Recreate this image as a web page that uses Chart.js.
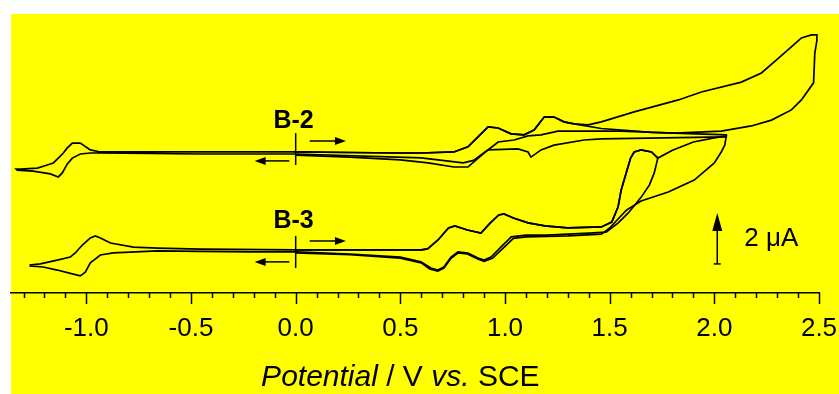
<!DOCTYPE html>
<html>
<head>
<meta charset="utf-8">
<script src="https://cdn.jsdelivr.net/npm/chart.js@4/dist/chart.umd.min.js"></script>
<style>
  html, body { margin: 0; padding: 0; background: #fff; }
</style>
</head>
<body>
<canvas id="cv" width="839" height="394"></canvas>
<script>
// potencial (V vs. SCE), corriente (uA, desplazada para apilar las curvas)

// ---- B-3 ----
const b3Ida = [[0,1.69],[0.26,1.69],[0.5,1.69],[0.6,1.69],[0.63,1.73],[0.68,2.08],[0.73,2.55],[0.76,2.63],
  [0.82,2.47],[0.885,2.35],[0.93,2.75],[0.97,3.06],[0.995,3.10],[1.04,2.94],[1.11,2.75],[1.19,2.63],
  [1.3,2.55],[1.46,2.59],[1.51,2.78],[1.54,3.37],[1.555,4.04],[1.6,5.29],[1.617,5.53],[1.65,5.61],[1.70,5.53],[1.73,5.29]];
const b3Vuelta2 = [[1.713,4.71],[1.69,4.24],[1.651,3.76],[1.589,3.14],[1.541,2.75],[1.483,2.39],[1.4,2.35],
  [1.3,2.31],[1.2,2.27],[1.1,2.27],[1.03,2.2],[0.98,1.8],[0.933,1.41],[0.9,1.29],[0.871,1.37],[0.823,1.57],
  [0.775,1.61],[0.742,1.41],[0.708,1.02],[0.679,0.9],[0.646,0.98],[0.598,1.22],[0.5,1.41],[0.26,1.53],[0,1.61]];
const b3Ida3 = [[1.8,5.6],[1.9,5.92],[2.0,6.08],[2.057,6.16]];
const b3Vuelta3 = [[2.05,5.8],[2.033,5.53],[2.0,5.1],[1.904,4.43],[1.78,3.96],[1.65,3.61],[1.58,3.25],
  [1.54,2.9],[1.5,2.55],[1.46,2.31],[1.3,2.24],[1.1,2.2],[1.04,2.14],[0.99,1.75],[0.94,1.36],[0.9,1.24],
  [0.87,1.33],[0.82,1.53],[0.775,1.57],[0.742,1.36],[0.708,0.98],[0.679,0.86],[0.64,0.94],[0.6,1.18],[0.5,1.37],[0.26,1.5],[0,1.57]];
const b3Negativo = [[0,1.61],[-0.215,1.61],[-0.455,1.63],[-0.66,1.65],[-0.871,1.57],[-0.933,1.49],[-0.981,1.18],
  [-1.005,0.82],[-1.029,0.67],[-1.067,0.75],[-1.139,0.9],[-1.206,1.02],[-1.268,1.06],[-1.268,1.10],[-1.22,1.14],
  [-1.139,1.29],[-1.077,1.41],[-1.053,1.57],[-1.019,1.88],[-0.981,2.16],[-0.957,2.24],[-0.933,2.16],
  [-0.885,1.96],[-0.775,1.80],[-0.66,1.76],[-0.455,1.72],[0,1.69]];

// ---- B-2 ----
const b2Ida = [[0,5.53],[0.26,5.51],[0.5,5.49],[0.6,5.49],[0.756,5.53],[0.823,5.73],[0.871,6.12],[0.919,6.51],
  [0.967,6.47],[1.029,6.24],[1.091,6.2],[1.139,6.39],[1.187,6.9],[1.234,6.9],[1.282,6.71],[1.33,6.63]];
const b2IdaA = [[1.397,6.59],[1.46,6.71],[1.617,7.1],[1.828,7.57],[1.938,7.88],[2.129,8.27],[2.225,8.63],
  [2.297,9.14],[2.368,9.65],[2.416,10.0],[2.464,10.12],[2.49,10.12]];
const b2VueltaA = [[2.49,9.9],[2.48,9.41],[2.474,8.24],[2.416,7.57],[2.368,7.18],[2.273,6.78],[2.177,6.55],
  [2.033,6.35],[1.809,6.27],[1.555,6.35],[1.364,6.35],[1.253,6.35],[1.172,6.2],[1.11,6.16],[1.043,6.0],
  [0.967,5.92],[0.9,5.49],[0.823,4.94],[0.756,4.94],[0.632,5.1],[0.5,5.22],[0.26,5.33],[0,5.41]];
const b2IdaB = [[1.46,6.45],[1.7,6.3],[2.057,6.2]];
const b2VueltaB = [[2.057,6.12],[1.459,6.04],[1.378,6.0],[1.234,5.8],[1.172,5.61],[1.124,5.33],[1.11,5.53],
  [1.062,5.65],[0.919,5.61],[0.885,5.41],[0.85,5.2],[0.8,5.1],[0.6,5.3],[0,5.45]];
const b2Negativo = [[0,5.45],[-0.455,5.45],[-0.933,5.49],[-0.981,5.49],[-1.029,5.45],[-1.067,5.29],[-1.091,5.06],
  [-1.115,4.71],[-1.134,4.55],[-1.172,4.67],[-1.254,4.78],[-1.33,4.82],[-1.335,4.86],[-1.316,4.86],[-1.234,4.9],
  [-1.187,5.02],[-1.158,5.1],[-1.134,5.29],[-1.11,5.49],[-1.091,5.69],[-1.067,5.88],[-1.029,5.88],
  [-0.981,5.61],[-0.933,5.53],[-0.455,5.53],[0,5.53]];

// ejes
const xMin = -1.36, xMax = 2.5;
const yMin = 0, yMax = 10.94;
const etiquetas = ['B-2', 'B-3'];
const etiquetaY = [6.47, 2.55];
const flechaDerY = [5.96, 2.04];
const flechaIzqY = [5.18, 1.22];
const marcaY = [[5.02, 6.27], [0.98, 2.24]];
const escalaX = 2.014, escalaDe = 1.14, escalaUA = 2;

const fuente = '"Liberation Sans", Arial, sans-serif';

const curvas = [
  b3Ida.concat(b3Vuelta2),
  b3Ida.concat(b3Ida3, b3Vuelta3),
  b3Negativo,
  b2Ida.concat(b2IdaA, b2VueltaA),
  b2Ida.concat(b2IdaB, b2VueltaB),
  b2Negativo
];

const datasets = curvas.map(c => ({
  data: c.map(p => ({ x: p[0], y: p[1] })),
  borderColor: '#000',
  borderWidth: 1.7,
  pointRadius: 0,
  showLine: true,
  tension: 0,
  fill: false
}));

const fondo = {
  id: 'fondo',
  beforeDraw(chart) {
    const ctx = chart.ctx;
    ctx.save();
    ctx.fillStyle = '#fff';
    ctx.fillRect(0, 0, chart.width, chart.height);
    ctx.fillStyle = '#ffff00';
    ctx.fillRect(11, 14, chart.width - 11, chart.height - 14);
    ctx.restore();
  }
};

function flecha(ctx, x1, y1, x2, y2, largo, ancho) {
  const ang = Math.atan2(y2 - y1, x2 - x1);
  ctx.beginPath();
  ctx.moveTo(x1, y1);
  ctx.lineTo(x2 - Math.cos(ang) * largo * 0.8, y2 - Math.sin(ang) * largo * 0.8);
  ctx.stroke();
  ctx.beginPath();
  ctx.moveTo(x2, y2);
  ctx.lineTo(x2 - Math.cos(ang) * largo + Math.sin(ang) * ancho, y2 - Math.sin(ang) * largo - Math.cos(ang) * ancho);
  ctx.lineTo(x2 - Math.cos(ang) * largo - Math.sin(ang) * ancho, y2 - Math.sin(ang) * largo + Math.cos(ang) * ancho);
  ctx.closePath();
  ctx.fill();
}

const anotaciones = {
  id: 'anotaciones',
  afterDraw(chart) {
    const ctx = chart.ctx;
    const sx = chart.scales.x, sy = chart.scales.y;
    const y0 = chart.chartArea.bottom;
    ctx.save();
    ctx.strokeStyle = '#000';
    ctx.fillStyle = '#000';
    ctx.lineWidth = 1.5;

    // marcas del eje, menores cada 0.1 y mayores cada 0.5
    for (let k = -13; k <= 25; k++) {
      const px = Math.round(sx.getPixelForValue(k / 10)) + 0.5;
      const l = k % 5 === 0 ? 11 : 5;
      ctx.beginPath();
      ctx.moveTo(px, y0);
      ctx.lineTo(px, y0 + l);
      ctx.stroke();
    }

    // nombres, marca del potencial inicial y sentido del barrido
    const x0 = sx.getPixelForValue(0);
    etiquetas.forEach((t, i) => {
      ctx.font = 'bold 25px ' + fuente;
      ctx.textAlign = 'center';
      ctx.textBaseline = 'alphabetic';
      ctx.fillText(t, sx.getPixelForValue(-0.01), sy.getPixelForValue(etiquetaY[i]));
      ctx.lineWidth = 1.5;
      ctx.beginPath();
      ctx.moveTo(x0, sy.getPixelForValue(marcaY[i][0]));
      ctx.lineTo(x0, sy.getPixelForValue(marcaY[i][1]));
      ctx.stroke();
      let yy = sy.getPixelForValue(flechaDerY[i]);
      flecha(ctx, sx.getPixelForValue(0.067), yy, sx.getPixelForValue(0.24), yy, 11, 4);
      yy = sy.getPixelForValue(flechaIzqY[i]);
      flecha(ctx, sx.getPixelForValue(-0.03), yy, sx.getPixelForValue(-0.196), yy, 11, 4);
    });

    // barra de escala
    const bx = sx.getPixelForValue(escalaX);
    const bAbajo = sy.getPixelForValue(escalaDe);
    const bArriba = sy.getPixelForValue(escalaDe + escalaUA);
    flecha(ctx, bx, bAbajo, bx, bArriba, 18, 5);
    ctx.beginPath();
    ctx.moveTo(bx - 3.5, bAbajo);
    ctx.lineTo(bx + 3.5, bAbajo);
    ctx.stroke();
    ctx.font = '26px ' + fuente;
    ctx.textAlign = 'left';
    ctx.textBaseline = 'middle';
    ctx.fillText('2 \u03bcA', sx.getPixelForValue(2.143), sy.getPixelForValue(escalaDe + escalaUA / 2));

    // titulo del eje x con partes en cursiva
    const partes = [['Potential', true], [' / V ', false], ['vs.', true], [' SCE', false]];
    let total = 0;
    partes.forEach(p => {
      ctx.font = (p[1] ? 'italic ' : '') + '30px ' + fuente;
      total += ctx.measureText(p[0]).width;
    });
    let px = sx.getPixelForValue(0.5) - total / 2;
    ctx.textBaseline = 'alphabetic';
    partes.forEach(p => {
      ctx.font = (p[1] ? 'italic ' : '') + '30px ' + fuente;
      ctx.fillText(p[0], px, 386);
      px += ctx.measureText(p[0]).width;
    });
    ctx.restore();
  }
};

new Chart(document.getElementById('cv'), {
  type: 'scatter',
  data: { datasets },
  options: {
    responsive: false,
    animation: false,
    layout: { padding: { left: 11, top: 14, right: 20, bottom: 0 } },
    plugins: { legend: { display: false }, tooltip: { enabled: false } },
    scales: {
      x: {
        type: 'linear',
        min: xMin,
        max: xMax,
        grid: { display: false, drawTicks: false },
        border: { display: true, color: '#000', width: 1.5 },
        ticks: {
          stepSize: 0.1,
          autoSkip: false,
          maxRotation: 0,
          padding: 20,
          color: '#000',
          font: { family: fuente, size: 26 },
          callback: v => Math.abs(v * 2 - Math.round(v * 2)) < 1e-6 ? v.toFixed(1) : ''
        },
        afterFit: s => {
          s.height = 101;
          s.paddingLeft = 0;
          s.paddingRight = 0;
        }
      },
      y: {
        type: 'linear',
        display: false,
        min: yMin,
        max: yMax
      }
    }
  },
  plugins: [fondo, anotaciones]
});
</script>
</body>
</html>
